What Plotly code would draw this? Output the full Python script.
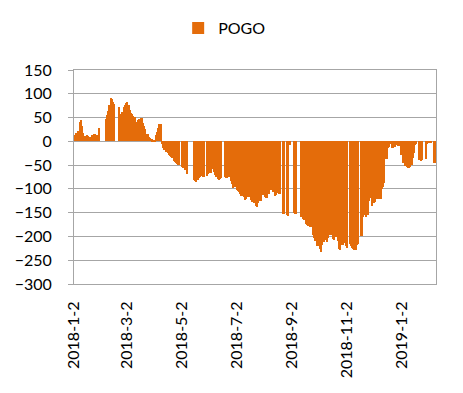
import pandas as pd
import plotly.graph_objects as go

# Daily (business-day) values; None = no bar (gap)
v_2018_01 = [10, 14, 18, 22, 40, 45, 32, 18, 12, 5, 14, 12, 6, 10, 13, 12, 15, 16, 14, 29, None, None]
v_2018_02 = [None, None, None, 46, 55, 63, 77, 91, 88, 82, 79, None, None, 72, 66, 58, 62, 72, 76, 80]
v_2018_03 = [82, 77, 65, 60, 57, 54, 51, 38, 40, 45, 47, 49, 38, 32, 25, 20, 16, 9, 7, 5, 4, 3]
v_2018_04 = [3, 14, 20, 27, 36, -5, -10, -15, -19, -22, -25, -29, -31, -33, -35, -41, -43, -45, -47, -49, None]
v_2018_05 = [None, -54, -56, -60, -68, None, None, None, None, None, -82, -84, -85, -82, -77, -75, -73, -71, -74,
             None, -72, -70, -68]
v_2018_06 = [-66, -55, -58, -64, -70, -75, -80, -82, -79, -78, None, -75, -75, -77, -78, -76, -84, -90, -95, -98, -97]
v_2018_07 = [-103, -105, -107, -110, -114, -114, -118, -123, -121, -117, -112, -116, -124, -128, -130, -137, -138,
             -130, -124, -126, -113, -111]
v_2018_08 = [-112, -118, -120, -110, -105, -99, -103, -106, -115, -112, -107, -108, -110, None, None, -152, -152,
             None, -155, -156, None, -8, None]
v_2018_09 = [-150, -152, -150, -153, None, None, -159, -160, -163, -166, -173, -176, -177, -178, -180, -192, -196,
             -203, -210, -220]
v_2018_10 = [-218, -226, -232, -218, -212, -207, -206, -211, -204, -197, -194, -198, -205, -207, -202, -210, -221,
             -226, -229, -218, -212, -213, -220]
v_2018_11 = [-225, None, -215, -220, -225, -227, -229, -219, -217, -215, None, -200, -160, -148, -155, -159, -155,
             -125, -115, -120, -135, -130]
v_2018_12 = [-127, -122, -117, -121, -122, -101, -97, -88, -60, -38, -15, -11, -3, -6, -14, -3, -12, -7, -4, -10, -28]
v_2019_01 = [-15, -5, -45, -52, -55, -56, -57, -53, -50, -35, -25, -8, -5, None, -40, -40, -41, -40, None, -38, -5,
             -3, -4]
v_2019_02 = [-3, None, None, -45, -45, -44]

months = ["2018-01", "2018-02", "2018-03", "2018-04", "2018-05", "2018-06", "2018-07",
          "2018-08", "2018-09", "2018-10", "2018-11", "2018-12", "2019-01", "2019-02"]
month_values = [v_2018_01, v_2018_02, v_2018_03, v_2018_04, v_2018_05, v_2018_06, v_2018_07,
                v_2018_08, v_2018_09, v_2018_10, v_2018_11, v_2018_12, v_2019_01, v_2019_02]

tick_dates = ["2018-01-02", "2018-03-02", "2018-05-02", "2018-07-02", "2018-09-02", "2018-11-02", "2019-01-02"]
tick_labels = ["2018-1-2", "2018-3-2", "2018-5-2", "2018-7-2", "2018-9-2", "2018-11-2", "2019-1-2"]
y_ticks = [150, 100, 50, 0, -50, -100, -150, -200, -250, -300]

dates, values = [], []
for m, vals in zip(months, month_values):
    start = pd.Timestamp(m + "-01")
    if m == "2018-01":
        start = pd.Timestamp("2018-01-02")
    end = pd.Timestamp(m + "-01") + pd.offsets.MonthEnd(0)
    if m == "2019-02":
        end = pd.Timestamp("2019-02-08")
    days = pd.bdate_range(start, end)
    assert len(days) == len(vals), (m, len(days), len(vals))
    dates.extend(days)
    values.extend(vals)

# Bar widths: one day (Friday bars span the weekend); bars overlap the next
# present bar slightly so that adjacent days render as one solid area.
DAY = 86400000
widths = []
for i, d in enumerate(dates):
    base = 3 * DAY if d.weekday() == 4 else DAY
    nxt_present = i + 1 < len(dates) and values[i + 1] is not None
    widths.append(base + (DAY // 2 if nxt_present else 0))

COLOR = "#E46C0A"
GRID = "#A6A6A6"
FONT = dict(family="Lato", size=16, color="black")

fig = go.Figure()
fig.add_trace(go.Bar(
    x=[d.strftime("%Y-%m-%d") for d in dates], y=values, width=widths, offset=0,
    name="POGO", marker=dict(color=COLOR, line=dict(width=0)),
))

# the page body adds an 8px margin, so the figure is 8px smaller than the window
fig.update_layout(
    template="none",
    width=455, height=385,
    margin=dict(l=66, r=27, t=62, b=109, autoexpand=False),
    paper_bgcolor="white", plot_bgcolor="white",
    font=FONT,
    showlegend=True,
    legend=dict(orientation="h", xref="container", yref="container",
                x=0.374, y=0.948, xanchor="left", yanchor="middle",
                font=FONT, bgcolor="rgba(0,0,0,0)"),
    bargap=0,
)
fig.update_xaxes(
    type="date", range=["2018-01-02", "2019-02-09"],
    tickmode="array", tickvals=tick_dates, ticktext=tick_labels, tickangle=-90,
    ticks="", showgrid=False, zeroline=False,
    showline=True, mirror=True, linecolor=GRID, linewidth=1,
    tickfont=FONT, ticklabelstandoff=10,
)
fig.update_yaxes(
    range=[-300, 150], tickmode="array", tickvals=y_ticks,
    showgrid=True, gridcolor=GRID, gridwidth=1, zeroline=False,
    showline=True, mirror=True, linecolor=GRID, linewidth=1,
    ticks="outside", ticklen=5, tickcolor=GRID, tickwidth=1,
    tickfont=FONT, ticklabelstandoff=13,
)

fig.write_html("out.html")
